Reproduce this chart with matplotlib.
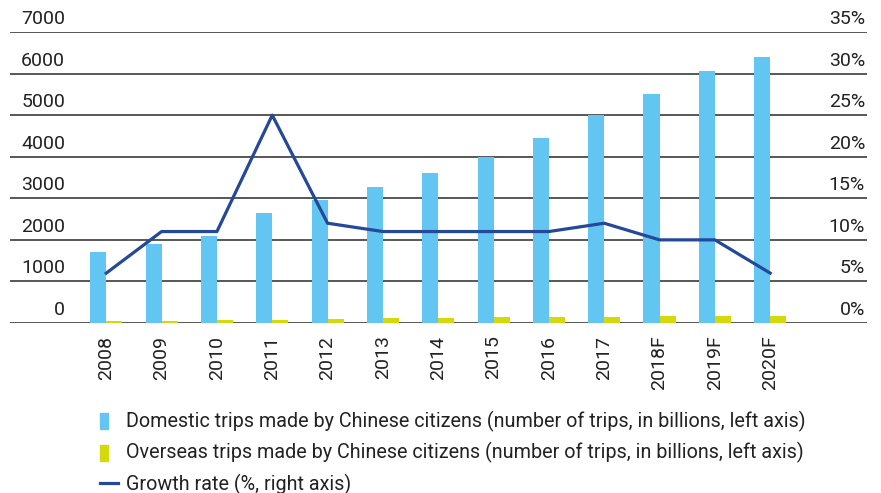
import matplotlib
matplotlib.use("Agg")
import matplotlib.pyplot as plt
import numpy as np
from matplotlib.patches import Patch, Rectangle
from matplotlib.lines import Line2D
from matplotlib.legend_handler import HandlerPatch
from matplotlib import transforms

years = ["2008", "2009", "2010", "2011", "2012", "2013", "2014", "2015", "2016",
         "2017", "2018F", "2019F", "2020F"]
domestic = [1712, 1902, 2103, 2641, 2957, 3262, 3611, 4000, 4440, 5001, 5500, 6060, 6400]
overseas = [50, 50, 75, 75, 100, 125, 125, 150, 150, 150, 175, 175, 175]
growth = [6, 11, 11, 25, 12, 11, 11, 11, 11, 12, 10, 10, 6]

left_ticks = [0, 1000, 2000, 3000, 4000, 5000, 6000, 7000]
right_ticks = [0, 5, 10, 15, 20, 25, 30, 35]

labels = ["Domestic trips made by Chinese citizens (number of trips, in billions, left axis)",
          "Overseas trips made by Chinese citizens (number of trips, in billions, left axis)",
          "Growth rate (%, right axis)"]

c_dom = "#63c5f2"
c_ovs = "#d3d90b"
c_line = "#24489a"
c_text = "#222222"

tick_font = dict(family=["Roboto", "DejaVu Sans"], weight="normal", size=14, color=c_text)

fig = plt.figure(figsize=(8.81, 4.93), dpi=100)
ax = fig.add_axes([10 / 881, 1 - 323 / 493, 857 / 881, (323 - 32) / 493])
ax2 = ax.twinx()

x = np.arange(len(years))
w = 0.29
ax.bar(x - w / 2, domestic, width=w, color=c_dom, zorder=3)
ax.bar(x + w / 2, overseas, width=w, color=c_ovs, zorder=3)
ax.set_ylim(0, 7000)
ax.set_xlim(-1.74, len(years) - 1 + 1.75)

ax2.plot(x, growth, color=c_line, lw=2.3, zorder=4)
ax2.set_ylim(0, 35)

for a in (ax, ax2):
    for s in a.spines.values():
        s.set_visible(False)
    a.set_yticks([])

for t in left_ticks:
    ax.axhline(t, color="#2a2a2a", lw=1.1, zorder=1)

tr_l = transforms.blended_transform_factory(ax.transAxes, ax.transData)
off = transforms.ScaledTranslation(0, 4 / 100, fig.dpi_scale_trans)
for t in left_ticks:
    ax.text(55 / 857, t, f"{t}", transform=tr_l + off, ha="right", va="bottom", **tick_font)
tr_r = transforms.blended_transform_factory(ax2.transAxes, ax2.transData)
for t in right_ticks:
    ax2.text(855 / 857, t, f"{t}%", transform=tr_r + off, ha="right", va="bottom", **tick_font)

ax.set_xticks(x)
ax.set_xticklabels(years, rotation=90, va="top", ha="center",
                   family=["Roboto", "DejaVu Sans"], fontsize=14, color=c_text)
ax.tick_params(axis="x", length=0, pad=9)


def narrow(legend, orig_handle, xdescent, ydescent, width, height, fontsize):
    return Rectangle((-xdescent, -ydescent - height * 0.15), width * 0.46, height * 1.15)


handles = [Patch(color=c_dom), Patch(color=c_ovs), Line2D([], [], color=c_line, lw=2.3)]
leg = fig.legend(handles, labels, loc="upper left", bbox_to_anchor=(92 / 881, 1 - 403 / 493),
                 frameon=False, handlelength=0.92, handletextpad=0.42, labelspacing=0.52,
                 borderaxespad=0, borderpad=0.4,
                 handler_map={Patch: HandlerPatch(patch_func=narrow)},
                 prop=dict(family=["Roboto", "DejaVu Sans"], size=14.2))
for t in leg.get_texts():
    t.set_color(c_text)

fig.savefig("out.png", dpi=100)
